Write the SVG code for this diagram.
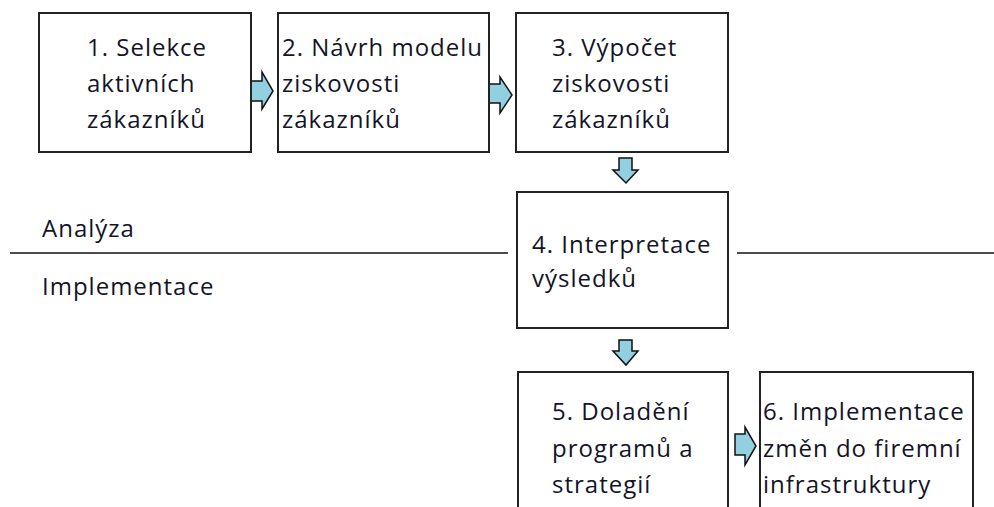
<svg xmlns="http://www.w3.org/2000/svg" width="994" height="507" viewBox="0 0 994 507">
<style>
.box{fill:#fff;stroke:#222;stroke-width:2}
.t{font-family:"Open Sans","Liberation Sans",sans-serif;font-size:24px;letter-spacing:1px;fill:#141428}
.arr{fill:#92CFE0;stroke:#111;stroke-width:1.5;stroke-linejoin:miter}
.sep{stroke:#111;stroke-width:1.5}
</style>
<rect width="994" height="507" fill="#fff"/>
<g id="labels">
<line class="sep" x1="10" y1="253" x2="508" y2="253"/>
<line class="sep" x1="737" y1="253" x2="994" y2="253"/>
<text class="t" x="42" y="237">Analýza</text>
<text class="t" x="42" y="295">Implementace</text>
</g>
<g id="connectors">
<polygon class="arr" points="251,81 262,81 262,72 273,91 262,109 262,101 251,101"/>
<polygon class="arr" points="489,84 500,84 500,77 512,95 500,113 500,103 489,103"/>
<polygon class="arr" points="619,158 632,158 632,170 638,170 626,183 613,170 619,170"/>
<polygon class="arr" points="619,340 632,340 632,351 638,351 626,365 613,351 619,351"/>
<polygon class="arr" points="735,434 745,434 745,427 756,446 745,465 745,455 735,455"/>
</g>
<g id="n1">
<rect class="box" x="39" y="13" width="212" height="139"/>
<text class="t" x="87" y="56">1. Selekce</text>
<text class="t" x="87" y="92">aktivních</text>
<text class="t" x="87" y="128">zákazníků</text>
</g>
<g id="n2">
<rect class="box" x="278" y="13" width="211" height="139"/>
<text class="t" x="282" y="56">2. Návrh modelu</text>
<text class="t" x="282" y="92">ziskovosti</text>
<text class="t" x="282" y="128">zákazníků</text>
</g>
<g id="n3">
<rect class="box" x="516" y="13" width="212" height="139"/>
<text class="t" x="552" y="56">3. Výpočet</text>
<text class="t" x="552" y="92">ziskovosti</text>
<text class="t" x="552" y="128">zákazníků</text>
</g>
<g id="n4">
<rect class="box" x="517" y="192" width="211" height="136"/>
<text class="t" x="532" y="253">4. Interpretace</text>
<text class="t" x="532" y="287">výsledků</text>
</g>
<g id="n5">
<rect class="box" x="518" y="372" width="210" height="140"/>
<text class="t" x="552" y="420">5. Doladění</text>
<text class="t" x="552" y="457">programů a</text>
<text class="t" x="552" y="493">strategií</text>
</g>
<g id="n6">
<rect class="box" x="760" y="372" width="213" height="140"/>
<text class="t" x="763" y="420">6. Implementace</text>
<text class="t" x="763" y="457">změn do firemní</text>
<text class="t" x="763" y="493">infrastruktury</text>
</g>
</svg>
